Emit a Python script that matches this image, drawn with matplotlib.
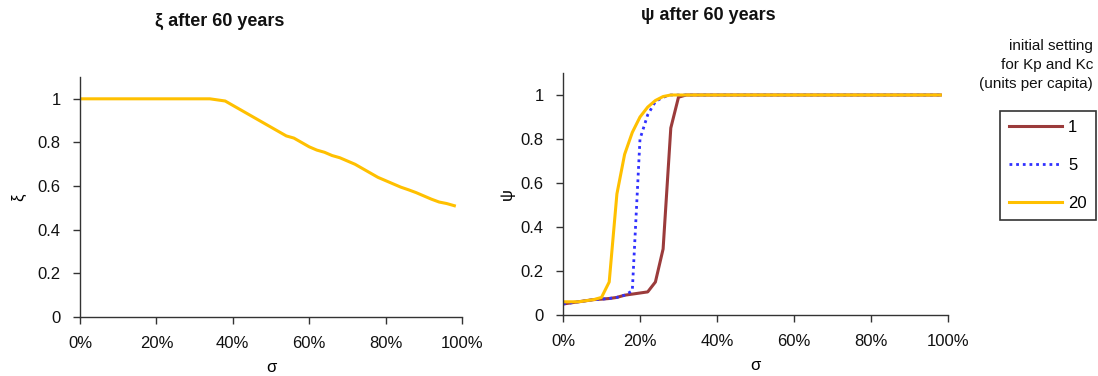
import matplotlib
matplotlib.use("Agg")
import matplotlib.pyplot as plt
from matplotlib.ticker import PercentFormatter
import numpy as np

plt.rcParams['font.family'] = ['Liberation Sans', 'DejaVu Sans']

sigma = [i / 50 for i in range(50)]  # 0% .. 98%

xi_values = [1.0] * 18 + [
    0.995, 0.99, 0.97, 0.95, 0.93, 0.91, 0.89, 0.87, 0.85, 0.83, 0.82, 0.80,
    0.78, 0.765, 0.755, 0.74, 0.73, 0.715, 0.70, 0.68, 0.66, 0.64, 0.625,
    0.61, 0.595, 0.583, 0.57, 0.555, 0.54, 0.527, 0.52, 0.51]

psi_k1 = [0.05, 0.055, 0.06, 0.065, 0.07, 0.072, 0.075, 0.08, 0.09, 0.095,
          0.10, 0.105, 0.15, 0.30, 0.85, 0.99] + [1.0] * 34
psi_k5 = [0.05, 0.055, 0.06, 0.065, 0.07, 0.072, 0.075, 0.08, 0.09, 0.11,
          0.80, 0.91, 0.97, 0.99] + [1.0] * 36
psi_k20 = [0.06, 0.06, 0.06, 0.065, 0.07, 0.08, 0.15, 0.55, 0.73, 0.83,
           0.90, 0.945, 0.975, 0.993] + [1.0] * 36

legend_labels = ['1', '5', '20']
legend_title = "initial setting\nfor Kp and Kc\n(units per capita)"

c_red = '#9B3B3B'
c_blue = '#3030FF'
c_yel = '#FFC000'

fig = plt.figure(figsize=(10.98, 3.76), dpi=100)
W, H = 1098, 376

def axes_px(l, r, t, b):
    return fig.add_axes([l / W, 1 - b / H, (r - l) / W, (b - t) / H])

ax1 = axes_px(80, 462, 77, 317)
ax2 = axes_px(563, 948, 73, 315)

def style(ax):
    ax.set_xlim(0, 1)
    ax.set_ylim(0, 1.1)
    ax.set_xticks(np.arange(0, 1.01, 0.2))
    ax.set_yticks(np.arange(0, 1.01, 0.2))
    ax.set_yticklabels(['0', '0.2', '0.4', '0.6', '0.8', '1'])
    ax.xaxis.set_major_formatter(PercentFormatter(1.0, decimals=0))
    for s in ['top', 'right']:
        ax.spines[s].set_visible(False)
    for s in ['left', 'bottom']:
        ax.spines[s].set_color('#333333')
        ax.spines[s].set_linewidth(1.0)
    ax.tick_params(direction='out', length=5, width=1, colors='#333333',
                   labelsize=12, labelcolor='#111111')
    ax.tick_params(axis='x', pad=9)
    ax.tick_params(axis='y', pad=9)
    ax.set_xlabel('σ', fontsize=12, labelpad=6)

style(ax1)
style(ax2)

ax1.plot(sigma, xi_values, color=c_yel, lw=2.2, solid_joinstyle='round')
ax1.set_ylabel('ξ', fontsize=12, labelpad=8)

l1, = ax2.plot(sigma, psi_k1, color=c_red, lw=2.2)
l2, = ax2.plot(sigma, psi_k5, color=c_blue, lw=2.0, ls=(0, (1, 1.4)))
l3, = ax2.plot(sigma, psi_k20, color=c_yel, lw=2.2)
ax2.set_ylabel('ψ', fontsize=12, labelpad=4)

fig.text(220 / W, 1 - 21 / H, 'ξ after 60 years', ha='center', va='center',
         fontsize=13, fontweight='bold', color='#111111')
fig.text(708 / W, 1 - 15 / H, 'ψ after 60 years', ha='center', va='center',
         fontsize=13, fontweight='bold', color='#111111')

leg = fig.legend([l1, l2, l3], legend_labels, loc='upper right',
                 bbox_to_anchor=(1096 / W, 1 - 111 / H), fontsize=12,
                 frameon=True, fancybox=False, edgecolor='black',
                 handlelength=3.2, labelspacing=1.36, borderpad=0.55,
                 handletextpad=0.35, borderaxespad=0)
leg.get_frame().set_linewidth(1.2)

fig.text(1093 / W, 1 - 39 / H, legend_title, ha='right', va='top',
         fontsize=11, linespacing=1.45, color='#111111')

fig.savefig('out.png', dpi=100)
